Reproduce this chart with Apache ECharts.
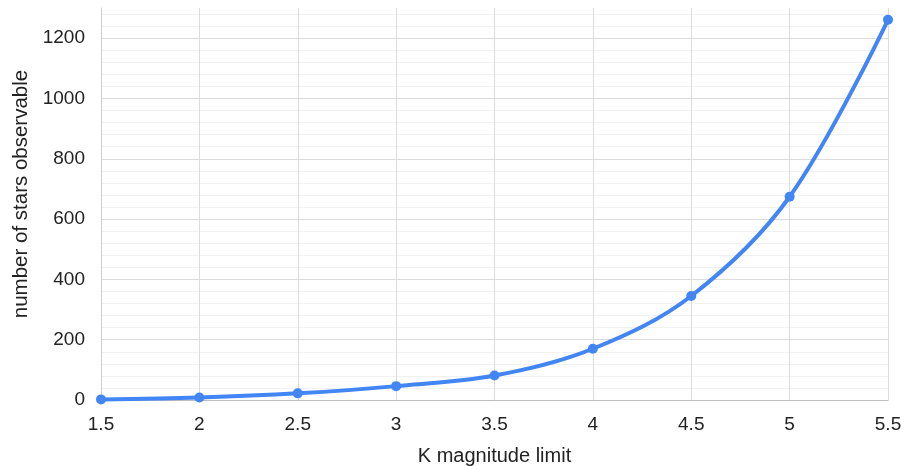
<!DOCTYPE html>
<html>
<head>
<meta charset="utf-8">
<script src="https://cdn.jsdelivr.net/npm/echarts@6/dist/echarts.min.js"></script>
<style>
  html, body { margin: 0; padding: 0; background: #fff; }
  #chart { width: 918px; height: 466px; }
</style>
</head>
<body>
<div id="chart"></div>
<script>
// K magnitude limit vs number of stars observable
const magnitudes = [1.5, 2, 2.5, 3, 3.5, 4, 4.5, 5, 5.5]
const starCounts = [2, 8, 22, 46, 81, 170, 345, 674, 1261]

const chart = echarts.init(document.getElementById('chart'))
const font = 'Liberation Sans, Arial, sans-serif'

chart.setOption({
  animation: false,
  grid: {
    left: 101,
    right: 30,
    top: 8,
    bottom: 66,
    outerBoundsMode: 'none'
  },
  xAxis: {
    type: 'value',
    min: 1.5,
    max: 5.5,
    interval: 0.5,
    name: 'K magnitude limit',
    nameLocation: 'middle',
    nameGap: 46,
    nameTextStyle: { color: '#222', fontSize: 20, fontFamily: font },
    axisLine: { show: true, lineStyle: { color: '#bdbdbd', width: 1 } },
    axisTick: { show: false },
    axisLabel: { color: '#222', fontSize: 19, fontFamily: font, margin: 15 },
    splitLine: { show: true, lineStyle: { color: '#dcdcdc', width: 1 } }
  },
  yAxis: {
    type: 'value',
    min: 0,
    max: 1300,
    interval: 40,
    name: 'number of stars observable',
    nameLocation: 'middle',
    nameGap: 69,
    // left padding nudges the rotated title upward, as in the original
    nameTextStyle: { color: '#222', fontSize: 20.5, fontFamily: font, padding: [0, 0, 0, 20] },
    axisLine: { show: true, lineStyle: { color: '#cfcfcf', width: 1 } },
    axisTick: { show: false },
    axisLabel: {
      color: '#222',
      fontSize: 19,
      fontFamily: font,
      margin: 16,
      showMaxLabel: false,
      formatter: (v) => (v % 200 === 0 ? String(v) : '')
    },
    splitLine: {
      show: true,
      showMaxLine: false,
      lineStyle: {
        // every 5th line (each 200) is a major line, the rest minor
        color: ['#dcdcdc', '#f1f1f1', '#f1f1f1', '#f1f1f1', '#f1f1f1'],
        width: 1
      }
    }
  },
  series: [
    {
      type: 'line',
      data: magnitudes.map((m, i) => [m, starCounts[i]]),
      smooth: 0.35,
      symbol: 'circle',
      symbolSize: 10,
      lineStyle: { color: '#4285f4', width: 4 },
      itemStyle: { color: '#4285f4' }
    }
  ]
})
</script>
</body>
</html>
